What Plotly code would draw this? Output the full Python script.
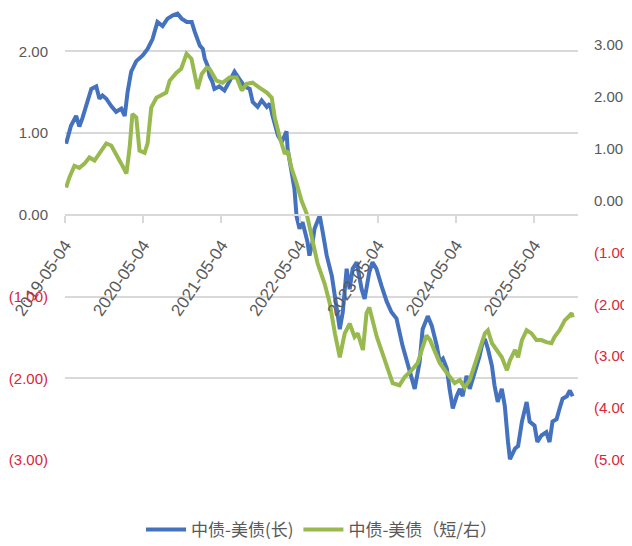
import plotly.graph_objects as go

# ---------------- data ----------------
long_dates = [
    "2019-05-09","2019-05-15","2019-06-01","2019-06-25","2019-07-10","2019-07-24","2019-08-17","2019-09-04",
    "2019-09-27","2019-10-12","2019-10-26","2019-11-13","2019-12-06","2019-12-29","2020-01-22","2020-02-07",
    "2020-02-21","2020-03-08","2020-04-01","2020-05-01","2020-05-24","2020-06-16","2020-07-09","2020-08-02",
    "2020-08-25","2020-09-19","2020-10-11","2020-10-30","2020-11-23","2020-12-16","2020-12-30","2021-01-23",
    "2021-02-06","2021-02-15","2021-03-01","2021-03-09","2021-03-22","2021-04-01","2021-04-24","2021-05-18",
    "2021-06-10","2021-07-04","2021-07-27","2021-08-20","2021-09-13","2021-09-27","2021-10-20","2021-11-08",
    "2021-12-02","2021-12-16","2021-12-29","2022-01-23","2022-02-10","2022-03-04","2022-03-09","2022-03-27",
    "2022-04-10","2022-04-20","2022-05-04","2022-05-18","2022-06-10","2022-06-19","2022-07-04","2022-07-13",
    "2022-08-06","2022-08-20","2022-09-08","2022-10-02","2022-10-16","2022-11-08","2022-11-22","2022-12-10",
    "2022-12-24","2023-01-07","2023-01-26","2023-02-18","2023-03-04","2023-03-26","2023-04-10","2023-04-28",
    "2023-05-22","2023-06-15","2023-07-07","2023-07-31","2023-08-28","2023-09-30","2023-10-24","2023-11-16",
    "2023-11-30","2023-12-24","2024-01-12","2024-02-04","2024-02-18","2024-03-04","2024-03-22","2024-04-04",
    "2024-04-19","2024-05-07","2024-05-22","2024-06-04","2024-06-22","2024-07-07","2024-07-21","2024-08-09",
    "2024-08-22","2024-09-06","2024-09-16","2024-09-30","2024-10-19","2024-10-31","2024-11-15","2024-12-04",
    "2024-12-18","2025-01-02","2025-01-11","2025-02-04","2025-02-18","2025-03-08","2025-03-30","2025-04-13",
    "2025-05-06","2025-05-19","2025-06-07","2025-06-30","2025-07-15","2025-07-29","2025-08-17","2025-08-31",
    "2025-09-14","2025-10-04","2025-10-18","2025-10-31",
]
long_spread = [
    0.87,0.93,1.09,1.21,1.08,1.18,1.38,1.54,
    1.57,1.42,1.46,1.42,1.33,1.26,1.30,1.21,
    1.51,1.75,1.88,1.95,2.03,2.15,2.36,2.31,
    2.40,2.44,2.46,2.40,2.36,2.36,2.24,2.07,
    2.03,1.91,1.82,1.70,1.63,1.54,1.57,1.52,
    1.63,1.75,1.66,1.57,1.54,1.38,1.32,1.40,
    1.32,1.36,1.21,0.97,0.89,1.02,0.81,0.53,
    0.32,-0.02,-0.17,-0.09,-0.33,-0.50,-0.33,-0.17,
    -0.01,-0.21,-0.50,-0.75,-1.03,-1.40,-1.19,-0.66,
    -0.91,-0.66,-0.58,-0.91,-1.03,-0.70,-0.58,-0.66,
    -0.87,-1.06,-1.19,-1.27,-1.60,-1.92,-2.13,-1.80,
    -1.40,-1.24,-1.36,-1.60,-1.80,-1.76,-1.88,-2.13,
    -2.37,-2.22,-2.13,-2.22,-1.97,-2.13,-2.01,-1.85,
    -1.73,-1.55,-1.52,-1.64,-1.85,-2.09,-2.29,-2.13,
    -2.34,-2.78,-2.99,-2.86,-2.83,-2.53,-2.29,-2.53,
    -2.58,-2.78,-2.70,-2.66,-2.78,-2.53,-2.50,-2.37,
    -2.25,-2.22,-2.15,-2.22,
]

short_dates = [
    "2019-05-09","2019-05-24","2019-06-17","2019-07-10","2019-08-03","2019-08-26","2019-09-19","2019-10-12",
    "2019-11-13","2019-12-06","2019-12-29","2020-01-22","2020-02-15","2020-03-01","2020-03-14","2020-04-01",
    "2020-04-16","2020-05-10","2020-05-24","2020-06-10","2020-07-04","2020-07-27","2020-08-19","2020-09-04",
    "2020-10-05","2020-10-28","2020-11-22","2020-12-15","2020-12-30","2021-01-13","2021-02-01","2021-02-24",
    "2021-03-09","2021-03-22","2021-04-11","2021-05-09","2021-06-10","2021-07-14","2021-08-07","2021-08-30",
    "2021-09-27","2021-10-30","2021-12-02","2021-12-25","2022-01-08","2022-02-01","2022-02-24","2022-03-09",
    "2022-03-27","2022-04-20","2022-05-13","2022-06-06","2022-06-28","2022-07-13","2022-07-27","2022-08-29",
    "2022-09-22","2022-10-16","2022-11-08","2022-12-01","2022-12-24","2023-01-16","2023-01-31","2023-02-24",
    "2023-03-13","2023-03-26","2023-04-19","2023-04-30","2023-05-26","2023-06-19","2023-07-13","2023-08-14",
    "2023-09-07","2023-10-10","2023-11-07","2023-11-30","2023-12-18","2024-01-04","2024-01-28","2024-02-18",
    "2024-03-13","2024-04-04","2024-04-28","2024-05-22","2024-06-13","2024-07-07","2024-07-31","2024-08-22",
    "2024-09-16","2024-09-30","2024-10-19","2024-11-12","2024-12-04","2024-12-28","2025-01-11","2025-02-04",
    "2025-02-18","2025-03-08","2025-03-30","2025-04-22","2025-05-15","2025-06-07","2025-06-30","2025-07-24",
    "2025-08-07","2025-08-31","2025-09-24","2025-10-09","2025-10-27","2025-10-31",
]
short_spread = [
    0.25,0.44,0.67,0.63,0.71,0.83,0.77,0.92,
    1.10,1.06,0.90,0.71,0.52,1.02,1.67,1.60,
    0.96,0.92,1.10,1.79,1.98,2.02,2.08,2.31,
    2.46,2.54,2.83,2.73,2.44,2.15,2.44,2.56,
    2.54,2.46,2.31,2.27,2.37,2.37,2.12,2.25,
    2.27,2.17,2.08,1.98,1.60,1.21,0.90,0.96,
    0.63,0.33,0.00,-0.25,-0.63,-0.90,-1.21,-1.60,
    -1.98,-2.56,-3.02,-2.56,-2.37,-2.63,-2.56,-2.88,
    -2.17,-2.06,-2.44,-2.63,-2.94,-3.21,-3.52,-3.56,
    -3.40,-3.27,-3.13,-2.83,-2.60,-2.69,-2.94,-3.13,
    -3.27,-3.40,-3.52,-3.46,-3.60,-3.46,-3.13,-2.88,
    -2.56,-2.50,-2.75,-2.88,-3.02,-3.27,-3.08,-2.88,
    -3.02,-2.69,-2.50,-2.56,-2.69,-2.69,-2.73,-2.75,
    -2.63,-2.50,-2.31,-2.25,-2.17,-2.25,
]

x_ticks = ["2019-05-04","2020-05-04","2021-05-04","2022-05-04","2023-05-04","2024-05-04","2025-05-04"]
left_ticks = [-3, -2, -1, 0, 1, 2]
right_ticks = [-5, -4, -3, -2, -1, 0, 1, 2, 3]

series_names = ["中债-美债(长)", "中债-美债（短/右）"]

# ---------------- styling ----------------
BLUE = "#4472BE"
GREEN = "#97B94E"
GREY = "#595959"
RED = "#D9263A"
GRID = "#D9D9D9"
TICK_FONT = "Liberation Sans, Arial, sans-serif"

def fmt(v):
    if v < 0:
        return f'<span style="color:{RED}">({abs(v):.2f})</span>'
    return f"{v:.2f}"

left_range = [-3, 2.53]
right_range = [-5, 3.71]
x0_pos = (0 - left_range[0]) / (left_range[1] - left_range[0])

fig = go.Figure()
fig.add_trace(go.Scatter(x=long_dates, y=long_spread, mode="lines", name=series_names[0],
                         line=dict(color=BLUE, width=4), yaxis="y"))
fig.add_trace(go.Scatter(x=short_dates, y=short_spread, mode="lines", name=series_names[1],
                         line=dict(color=GREEN, width=4), yaxis="y2"))

fig.update_layout(
    width=624, height=538,
    template="none",
    paper_bgcolor="white", plot_bgcolor="white",
    margin=dict(l=57, r=54, t=0, b=86, autoexpand=False),
    showlegend=True,
    legend=dict(orientation="h", x=0.5, xanchor="center", y=-0.155, yanchor="middle",
                font=dict(family="Noto Sans CJK SC", size=17, color=GREY),
                itemwidth=40, bgcolor="rgba(0,0,0,0)"),
    xaxis=dict(
        type="date", range=["2019-05-04", "2025-11-25"],
        tickvals=x_ticks, ticktext=x_ticks, tickangle=-56,
        tickfont=dict(family=TICK_FONT, size=17, color=GREY),
        showgrid=False, zeroline=False,
        showline=True, linecolor=GRID, linewidth=1.5,
        ticks="outside", ticklen=7, tickcolor=GRID, tickwidth=1.5,
        ticklabelstandoff=6,
        anchor="free", position=x0_pos, automargin=False,
    ),
    yaxis=dict(
        range=left_range, tickvals=left_ticks, ticktext=[fmt(v) for v in left_ticks],
        tickfont=dict(family=TICK_FONT, size=15, color=GREY),
        showgrid=True, gridcolor=GRID, gridwidth=1.5, zeroline=False,
        showline=False, ticks="", ticklabelstandoff=16, automargin=False,
    ),
    yaxis2=dict(
        range=right_range, tickvals=right_ticks, ticktext=[fmt(v) for v in right_ticks],
        tickfont=dict(family=TICK_FONT, size=15, color=GREY),
        overlaying="y", side="right", showgrid=False, zeroline=False,
        showline=False, ticks="", ticklabelstandoff=15, automargin=False,
    ),
)

fig.write_html("out.html")
